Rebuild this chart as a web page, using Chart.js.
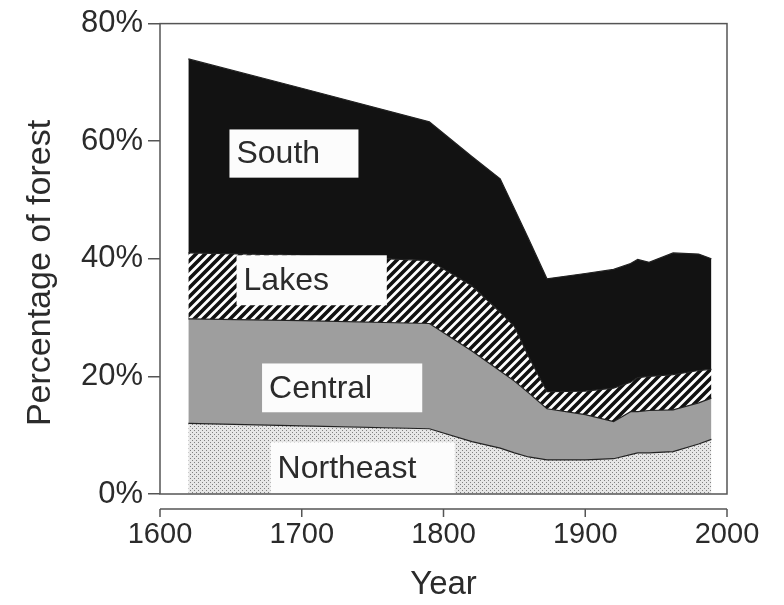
<!DOCTYPE html>
<html>
<head>
<meta charset="utf-8">
<script src="https://cdn.jsdelivr.net/npm/chart.js@4.4.1/dist/chart.umd.min.js"></script>
<style>
  body { margin: 0; background: #fff; }
  canvas { display: block; }
</style>
</head>
<body>
<canvas id="forest-chart" width="784" height="605"></canvas>
<script>
// share of forest by region (percent of total)
const years     = [1620, 1700, 1790, 1820, 1840, 1850, 1860, 1873, 1900, 1920, 1932, 1937, 1945, 1962, 1980, 1989];
const northeast = [12.0, 11.6, 11.1,  8.9,  7.8,  7.0,  6.3,  5.8,  5.8,  6.0,  6.7,  7.0,  7.0,  7.2,  8.5,  9.3];
const central   = [17.8, 17.9, 17.9, 15.4, 13.1, 12.2, 10.9,  8.7,  7.7,  6.3,  7.3,  7.0,  7.2,  7.1,  7.0,  7.0];
const lakes     = [11.2, 11.1, 10.7, 11.1, 10.0,  9.3,  6.2,  2.9,  4.0,  5.7,  5.0,  5.8,  5.8,  6.0,  5.5,  4.9];
const south     = [33.0, 28.4, 23.6, 22.0, 22.7, 20.0, 20.0, 19.2, 20.0, 20.2, 20.2, 20.1, 19.4, 20.7, 19.8, 18.8];

const xTicks = [1600, 1700, 1800, 1900, 2000];
const yTicks = [0, 20, 40, 60, 80];

const FONT = '"Liberation Sans", Arial, Helvetica, sans-serif';
const INK = '#2b2b2b';

// label boxes, placed in data units (year / percent)
const regionLabels = [
    { text: 'South',     x0: 1649, x1: 1740, y0: 53.8, y1: 62.0 },
    { text: 'Lakes',     x0: 1654, x1: 1760, y0: 32.1, y1: 40.6 },
    { text: 'Central',   x0: 1672, x1: 1785, y0: 13.9, y1: 22.2 },
    { text: 'Northeast', x0: 1678, x1: 1808, y0: 0,    y1: 8.8 },
];

function makeTile(size, draw) {
    const c = document.createElement('canvas');
    c.width = size;
    c.height = size;
    draw(c.getContext('2d'), size);
    return document.getElementById('forest-chart').getContext('2d').createPattern(c, 'repeat');
}

const dotted = makeTile(4, (g, s) => {
    g.fillStyle = '#e6e6e6';
    g.fillRect(0, 0, s, s);
    g.fillStyle = '#808080';
    g.fillRect(0, 0, 1, 1);
    g.fillRect(2, 2, 1, 1);
});

const hatched = makeTile(9, (g, s) => {
    g.fillStyle = '#ffffff';
    g.fillRect(0, 0, s, s);
    g.strokeStyle = '#111';
    g.lineWidth = 3.6;
    g.beginPath();
    g.moveTo(0, s); g.lineTo(s, 0);
    g.moveTo(-3, 3); g.lineTo(3, -3);
    g.moveTo(s - 3, s + 3); g.lineTo(s + 3, s - 3);
    g.stroke();
});

const toPoints = (vals) => vals.map((v, i) => ({ x: years[i], y: v }));

function region(label, vals, fill, bg) {
    return {
        label,
        data: toPoints(vals),
        fill,
        backgroundColor: bg,
        borderColor: '#222',
        borderWidth: 1.2,
        pointRadius: 0,
        tension: 0,
    };
}

const framePlugin = {
    id: 'frame',
    afterDatasetsDraw(chart) {
        const { ctx, chartArea: a, scales: { x, y } } = chart;
        ctx.save();

        // white label boxes
        ctx.font = `32px ${FONT}`;
        ctx.textBaseline = 'middle';
        ctx.textAlign = 'left';
        regionLabels.forEach((l) => {
            const left = x.getPixelForValue(l.x0);
            const right = x.getPixelForValue(l.x1);
            const top = y.getPixelForValue(l.y1);
            const bottom = y.getPixelForValue(l.y0);
            ctx.fillStyle = '#fcfcfc';
            ctx.fillRect(left, top, right - left, bottom - top);
            ctx.fillStyle = INK;
            ctx.fillText(l.text, left + 7, (top + bottom) / 2 + 1);
        });

        // plot frame
        ctx.strokeStyle = '#555';
        ctx.lineWidth = 1.5;
        ctx.strokeRect(a.left, a.top, a.right - a.left, a.bottom - a.top);

        // detached x axis line below the frame
        const axisY = a.bottom + 15;
        ctx.beginPath();
        ctx.moveTo(x.getPixelForValue(xTicks[0]), axisY);
        ctx.lineTo(x.getPixelForValue(xTicks[xTicks.length - 1]), axisY);
        xTicks.forEach((t) => {
            const px = x.getPixelForValue(t);
            ctx.moveTo(px, axisY);
            ctx.lineTo(px, axisY + 8);
        });
        ctx.stroke();
        ctx.restore();
    },
};

new Chart(document.getElementById('forest-chart'), {
    type: 'line',
    data: {
        datasets: [
            region('Northeast', northeast, 'origin', dotted),
            region('Central', central, '-1', '#9e9e9e'),
            region('Lakes', lakes, '-1', hatched),
            region('South', south, '-1', '#121212'),
        ],
    },
    options: {
        responsive: false,
        animation: false,
        layout: { padding: { top: 23, right: 57, left: 0, bottom: 0 } },
        plugins: {
            legend: { display: false },
            tooltip: { enabled: false },
        },
        scales: {
            x: {
                type: 'linear',
                min: 1600,
                max: 2000,
                afterBuildTicks: (s) => { s.ticks = xTicks.map((v) => ({ value: v })); },
                afterFit: (s) => { s.height = 111; },
                grid: { display: false, drawTicks: false },
                border: { display: false },
                ticks: {
                    color: INK,
                    font: { family: FONT, size: 29 },
                    padding: 24,
                    maxRotation: 0,
                    callback: (v) => String(v),
                },
                title: {
                    display: true,
                    text: 'Year',
                    color: INK,
                    font: { family: FONT, size: 33 },
                    padding: { top: 0, bottom: 0 },
                },
            },
            y: {
                stacked: true,
                min: 0,
                max: 80,
                afterBuildTicks: (s) => { s.ticks = yTicks.map((v) => ({ value: v })); },
                afterFit: (s) => { s.width = 160; },
                grid: {
                    drawOnChartArea: false,
                    drawTicks: true,
                    tickLength: 12,
                    color: '#555',
                    lineWidth: 1.5,
                },
                border: { display: false },
                ticks: {
                    color: INK,
                    font: { family: FONT, size: 31 },
                    padding: 5,
                    callback: (v) => v + '%',
                },
                title: {
                    display: true,
                    // trailing spaces nudge the rotated title a little lower, as in the figure
                    text: 'Percentage of forest   ',
                    color: INK,
                    font: { family: FONT, size: 34 },
                    padding: { top: 20, bottom: 0 },
                },
            },
        },
    },
    plugins: [framePlugin],
});
</script>
</body>
</html>
